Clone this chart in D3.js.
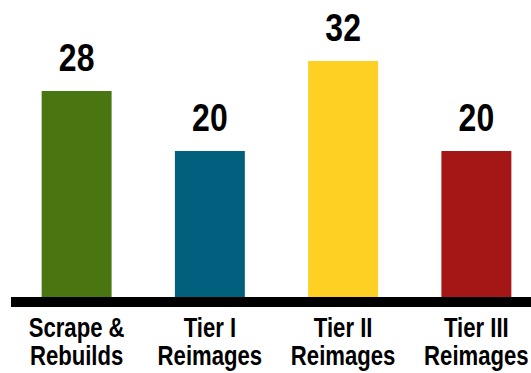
<!DOCTYPE html>
<html>
<head>
<meta charset="utf-8">
<script src="https://cdn.jsdelivr.net/npm/d3@7"></script>
<style>
  body { margin: 0; background: #fff; }
  svg { display: block; }
</style>
</head>
<body>
<svg id="chart"></svg>
<script>
// chart data
categories = ["Scrape &\nRebuilds", "Tier I\nReimages", "Tier II\nReimages", "Tier III\nReimages"];
values = [28, 20, 32, 20];
barColors = ["#4a7611", "#02607f", "#ffd024", "#a51616"];

width = 531;
height = 373;
narrow = 0.82; // no Arial Narrow here, squeeze Liberation Sans instead

var svg = d3.select("#chart").attr("width", width).attr("height", height);

var x = d3.scaleBand()
    .domain(categories)
    .range([10, 543])
    .paddingInner(0.475)
    .paddingOuter(0.2375);

var y = d3.scaleLinear()
    .domain([0, 32])
    .range([301, 61]);

function cx(i) {return x(categories[i]) + x.bandwidth() / 2;}

// bars
svg.selectAll(".bar")
    .data(values)
    .enter()
    .append("rect")
    .attr("class", "bar")
    .attr("x", function (d, i) {return x(categories[i]);})
    .attr("y", function (d) {return y(d);})
    .attr("width", x.bandwidth())
    .attr("height", function (d) {return y(0) - y(d);})
    .style("fill", function (d, i) {return barColors[i];});

// value labels
svg.selectAll(".val")
    .data(values)
    .enter()
    .append("text")
    .attr("class", "val")
    .attr("transform", function (d, i) {
        return "translate(" + cx(i) + "," + (y(d) - 20) + ") scale(" + narrow + ",1)";
    })
    .attr("text-anchor", "middle")
    .style("font-family", "'Liberation Sans', Arial, sans-serif")
    .style("font-weight", "bold")
    .style("font-size", "39px")
    .text(function (d) {return d;});

// baseline
svg.append("line")
    .attr("x1", 11)
    .attr("x2", width)
    .attr("y1", 302)
    .attr("y2", 302)
    .style("stroke", "#000")
    .style("stroke-width", 10);

// category labels
var lab = svg.selectAll(".cat")
    .data(categories)
    .enter()
    .append("text")
    .attr("class", "cat")
    .attr("transform", function (d, i) {
        return "translate(" + cx(i) + ",0) scale(" + narrow + ",1)";
    })
    .attr("text-anchor", "middle")
    .style("font-family", "'Liberation Sans', Arial, sans-serif")
    .style("font-weight", "bold")
    .style("font-size", "27px");

lab.each(function (d) {
    var t = d3.select(this);
    d.split("\n").forEach(function (line, k) {
        t.append("tspan")
            .attr("x", 0)
            .attr("y", 337 + k * 28)
            .text(line);
    });
});
</script>
</body>
</html>
